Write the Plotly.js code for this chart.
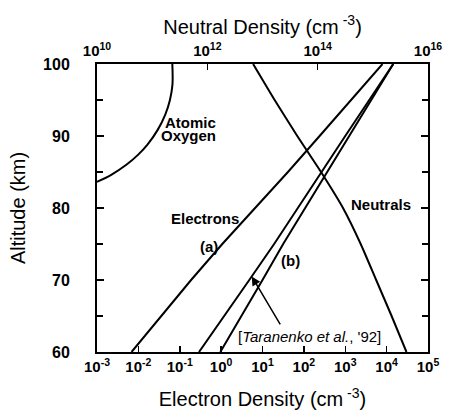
<!DOCTYPE html>
<html><head><meta charset="utf-8">
<script src="https://cdn.plot.ly/plotly-3.0.1.min.js"></script>
<style>html,body{margin:0;padding:0;background:#fff}</style>
</head><body>
<div id="chart" style="width:450px;height:412px"></div>
<script>
// Altitude grid (km) for electron and neutral profiles
const altitudes = [60, 65, 70, 75, 80, 85, 90, 95, 100];
// Electron density profiles (cm^-3)
const electronsA = [0.00684, 0.0359, 0.188, 1.067, 6.67, 41.2, 240, 1358, 7943];
const electronsB = [0.955, 3.16, 10.0, 31.6, 107, 363, 1230, 4169, 14454];
const electronsTaranenko = [0.292, 1.20, 4.79, 19.1, 70.8, 263, 1000, 3802, 14454];
// Neutral density (cm^-3)
const neutrals = [4.07e15, 2.19e15, 1.15e15, 6.03e14, 2.88e14, 1.15e14, 4.27e13, 1.66e13, 6.76e12];
// Atomic oxygen density (cm^-3)
const oxygenAlt = [83.64, 84.61, 86.0, 87.38, 88.77, 90.85, 92.93, 95.01, 97.09, 100];
const atomicOxygen = [9.95e9, 1.81e10, 3.40e10, 5.53e10, 8.15e10, 1.26e11, 1.72e11, 2.10e11, 2.33e11, 2.32e11];

// Tick labels
const bottomTickVals = [1e-3, 1e-2, 1e-1, 1e0, 1e1, 1e2, 1e3, 1e4, 1e5];
const bottomTickText = ['10<sup>-3</sup>', '10<sup>-2</sup>', '10<sup>-1</sup>', '10<sup>0</sup>', '10<sup>1</sup>', '10<sup>2</sup>', '10<sup>3</sup>', '10<sup>4</sup>', '10<sup>5</sup>'];
const topTickVals = [1e10, 1e12, 1e14, 1e16];
const topTickText = ['10<sup>10</sup>', '10<sup>12</sup>', '10<sup>14</sup>', '10<sup>16</sup>'];
const altTickVals = [60, 70, 80, 90, 100];

const FONT = 'Liberation Sans, Arial, Helvetica, sans-serif';
const lineStyle = {color: '#000', width: 2};

const traces = [
  {x: electronsA, y: altitudes, type: 'scatter', mode: 'lines', line: lineStyle, xaxis: 'x', yaxis: 'y', hoverinfo: 'skip'},
  {x: electronsB, y: altitudes, type: 'scatter', mode: 'lines', line: lineStyle, xaxis: 'x', yaxis: 'y', hoverinfo: 'skip'},
  {x: electronsTaranenko, y: altitudes, type: 'scatter', mode: 'lines', line: lineStyle, xaxis: 'x', yaxis: 'y', hoverinfo: 'skip'},
  {x: neutrals, y: altitudes, type: 'scatter', mode: 'lines', line: Object.assign({shape: 'spline', smoothing: 0.5}, lineStyle), xaxis: 'x2', yaxis: 'y', hoverinfo: 'skip'},
  {x: atomicOxygen, y: oxygenAlt, type: 'scatter', mode: 'lines', line: Object.assign({shape: 'spline', smoothing: 1}, lineStyle), xaxis: 'x2', yaxis: 'y', hoverinfo: 'skip'}
];

const labelFont = {family: FONT, size: 15, color: '#000', weight: 'bold'};
function lab(text, x, y) {
  return {text: text, x: x, y: y, xref: 'x', yref: 'y', showarrow: false, font: labelFont, xanchor: 'center', yanchor: 'middle'};
}

const annotations = [
  lab('Atomic', -0.735, 91.9),
  lab('Oxygen', -0.78, 90.05),
  lab('Electrons', -0.398, 78.55),
  lab('(a)', -0.301, 74.67),
  lab('(b)', 1.675, 72.73),
  lab('Neutrals', 3.867, 80.48),
  {text: "[<i>Taranenko et al.</i>, '92]", x: 2.133, y: 62.2, xref: 'x', yref: 'y', showarrow: false,
   font: {family: FONT, size: 15, color: '#000'}, xanchor: 'center', yanchor: 'middle'},
  {text: '', x: 0.74, y: 70.5, ax: 1.45, ay: 63.64, xref: 'x', yref: 'y', axref: 'x', ayref: 'y',
   showarrow: true, arrowhead: 2, arrowsize: 1.2, arrowwidth: 1.5, arrowcolor: '#000'}
];

const tickFont = {family: FONT, size: 15, color: '#000', weight: 'bold'};
const layout = {
  width: 450, height: 412,
  margin: {l: 97, r: 22, t: 64, b: 60},
  paper_bgcolor: '#fff', plot_bgcolor: '#fff',
  showlegend: false,
  font: {family: FONT, color: '#000'},
  xaxis: {
    type: 'log', range: [-3, 5], tickvals: bottomTickVals, ticktext: bottomTickText,
    ticks: 'inside', ticklen: 6, tickwidth: 1.5, tickcolor: '#000',
    showline: true, linewidth: 2, linecolor: '#000', mirror: false,
    showgrid: false, zeroline: false, tickfont: tickFont,
    title: {text: 'Electron Density (cm<sup> -3</sup>)', font: {family: FONT, size: 20, color: '#000'}, standoff: 18},
    automargin: false
  },
  xaxis2: {
    type: 'log', range: [10, 16], overlaying: 'x', side: 'top', anchor: 'y',
    tickvals: topTickVals, ticktext: topTickText,
    ticks: 'inside', ticklen: 6, tickwidth: 1.5, tickcolor: '#000',
    showline: true, linewidth: 2, linecolor: '#000',
    showgrid: false, zeroline: false, tickfont: tickFont,
    title: {text: 'Neutral Density (cm<sup> -3</sup>)', font: {family: FONT, size: 20, color: '#000'}, standoff: 0},
    automargin: false
  },
  yaxis: {
    range: [60, 100], tickvals: altTickVals,
    ticks: 'inside', ticklen: 7, tickwidth: 1.5, tickcolor: '#000',
    minor: {dtick: 5, ticks: 'inside', ticklen: 6, tickwidth: 1.5, tickcolor: '#000', showgrid: false},
    showline: true, linewidth: 2, linecolor: '#000', mirror: 'ticks',
    showgrid: false, zeroline: false, tickfont: {family: FONT, size: 16, color: '#000', weight: 'bold'},
    ticklabelstandoff: 22,
    title: {text: 'Altitude (km)', font: {family: FONT, size: 20, color: '#000'}, standoff: 12},
    automargin: false
  },
  annotations: annotations
};

Plotly.newPlot('chart', traces, layout, {staticPlot: true, displayModeBar: false});
</script>
</body></html>
